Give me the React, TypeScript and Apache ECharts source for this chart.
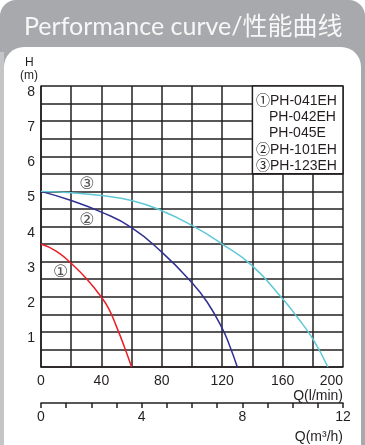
import React, { useEffect, useRef } from "react";
import * as echarts from "echarts";

// Flow Q (l/min) vs head H (m)
const curve1: [number, number][] = [[0, 3.5], [10, 3.3], [20, 2.95], [30, 2.52], [40, 1.99], [45, 1.65], [50, 1.15], [55, 0.6], [60, 0]];
const curve2: [number, number][] = [[0, 5], [20, 4.74], [40, 4.41], [60, 3.97], [80, 3.27], [100, 2.4], [110, 1.85], [120, 1.1], [125, 0.6], [130, 0]];
const curve3: [number, number][] = [[0, 5], [20, 4.96], [40, 4.88], [60, 4.74], [80, 4.45], [100, 4.03], [120, 3.5], [140, 2.88], [160, 1.94], [170, 1.4], [180, 0.8], [190, 0]];
const curveTags = ["①", "②", "③"];
const tagPositions: [number, number][] = [[13, 2.72], [30.3, 4.2], [30.3, 5.23]];
const legendLines = ["①PH-041EH", "PH-042EH", "PH-045E", "②PH-101EH", "③PH-123EH"];
const legendBox: [number, number][] = [[140, 8], [200, 5.5]];
const title = "Performance curve/性能曲线";

const FONT = "Liberation Sans, Arial, Noto Sans CJK SC, sans-serif";
const INK = "#231f20";

export default function App() {
  const ref = useRef<HTMLDivElement>(null);
  useEffect(() => {
    const chart = echarts.init(ref.current!, null, { renderer: "svg" });
    const mk = (data: [number, number][], color: string, idx: number, extra: any = {}) => ({
      type: "line",
      data,
      smooth: true,
      symbol: "none",
      lineStyle: { color, width: 1.5 },
      z: 3,
      markPoint: {
        symbol: "circle",
        symbolSize: 0,
        data: [{ coord: tagPositions[idx], value: curveTags[idx] }],
        label: {
          show: true,
          formatter: curveTags[idx],
          color: "#555",
          fontSize: 17,
          fontFamily: "DejaVu Sans, Noto Sans CJK SC, sans-serif",
          position: "inside",
        },
      },
      ...extra,
    });
    const legendGraphics = legendLines.map((t, i) => ({
      type: "text",
      left: t.startsWith("P") ? 269 : 256,
      top: 93 + i * 16.2,
      z: 10,
      style: { text: t, font: `14px ${FONT}`, fill: INK },
    }));
    chart.setOption({
      animation: false,
      grid: { left: 41, right: 22, top: 86, bottom: 78 },
      xAxis: [
        {
          type: "value",
          min: 0,
          max: 200,
          interval: 20,
          axisLine: { show: true, onZero: false, lineStyle: { color: INK, width: 1.5 } },
          axisTick: { show: false },
          axisLabel: {
            formatter: (v: number) => (v % 40 === 0 ? String(v) : ""),
            margin: 6,
            fontSize: 14,
            color: INK,
            fontFamily: FONT,
            alignMaxLabel: "right",
          },
          splitLine: { show: true, lineStyle: { color: INK, width: 1.5 } },
        },
        {
          type: "value",
          min: 0,
          max: 12,
          interval: 1,
          position: "bottom",
          offset: 36,
          axisLine: { show: true, onZero: false, lineStyle: { color: INK, width: 1.5 } },
          axisTick: { show: true, length: 5, lineStyle: { color: INK, width: 1.5 } },
          axisLabel: {
            formatter: (v: number) => (v % 4 === 0 ? String(v) : ""),
            margin: 6,
            fontSize: 14,
            color: INK,
            fontFamily: FONT,
          },
          splitLine: { show: false },
        },
      ],
      yAxis: {
        type: "value",
        min: 0,
        max: 8,
        interval: 0.5,
        axisLine: { show: true, lineStyle: { color: INK, width: 1.5 } },
        axisTick: { show: false },
        axisLabel: {
          formatter: (v: number) => (v > 0 && Number.isInteger(v) ? String(v) : ""),
          margin: 6,
          fontSize: 14,
          color: INK,
          fontFamily: FONT,
          verticalAlign: "top",
          lineHeight: 10,
        },
        splitLine: { show: true, lineStyle: { color: INK, width: 1.5 } },
      },
      series: [
        mk(curve1, "#ed1c24", 0),
        mk(curve2, "#2e3192", 1),
        mk(curve3, "#5fc8d6", 2, {
          markArea: {
            silent: true,
            itemStyle: { color: "#fff", borderColor: INK, borderWidth: 1.5 },
            data: [[{ coord: legendBox[0] }, { coord: legendBox[1] }]],
          },
        }),
      ],
      graphic: [
        { type: "rect", z: -10, silent: true, shape: { x: 0, y: 0, width: 365, height: 470, r: 16 }, style: { fill: "#a7a9ac" } },
        { type: "rect", z: -9, silent: true, shape: { x: 0, y: 52, width: 4, height: 400 }, style: { fill: "#c4c5c7" } },
        { type: "rect", z: -8, silent: true, shape: { x: 4, y: 47, width: 357, height: 420, r: 20 }, style: { fill: "#ffffff" } },
        {
          type: "text",
          left: 24,
          top: 12,
          z: 10,
          style: { text: title, font: "25px Lato, Noto Sans CJK SC, sans-serif", fill: "#f7f7f7" },
        },
        { type: "text", left: 25, top: 56, z: 10, style: { text: "H", font: `12px ${FONT}`, fill: INK } },
        { type: "text", left: 20, top: 69, z: 10, style: { text: "(m)", font: `12px ${FONT}`, fill: INK } },
        { type: "text", right: 22, top: 388, z: 10, style: { text: "Q(l/min)", font: `14px ${FONT}`, fill: INK } },
        { type: "text", right: 22, top: 429, z: 10, style: { text: "Q(m³/h)", font: `14px ${FONT}`, fill: INK } },
        ...legendGraphics,
      ],
    });
    return () => chart.dispose();
  }, []);
  return <div ref={ref} style={{ position: "fixed", left: 0, top: 0, width: 365, height: 445 }} />;
}
